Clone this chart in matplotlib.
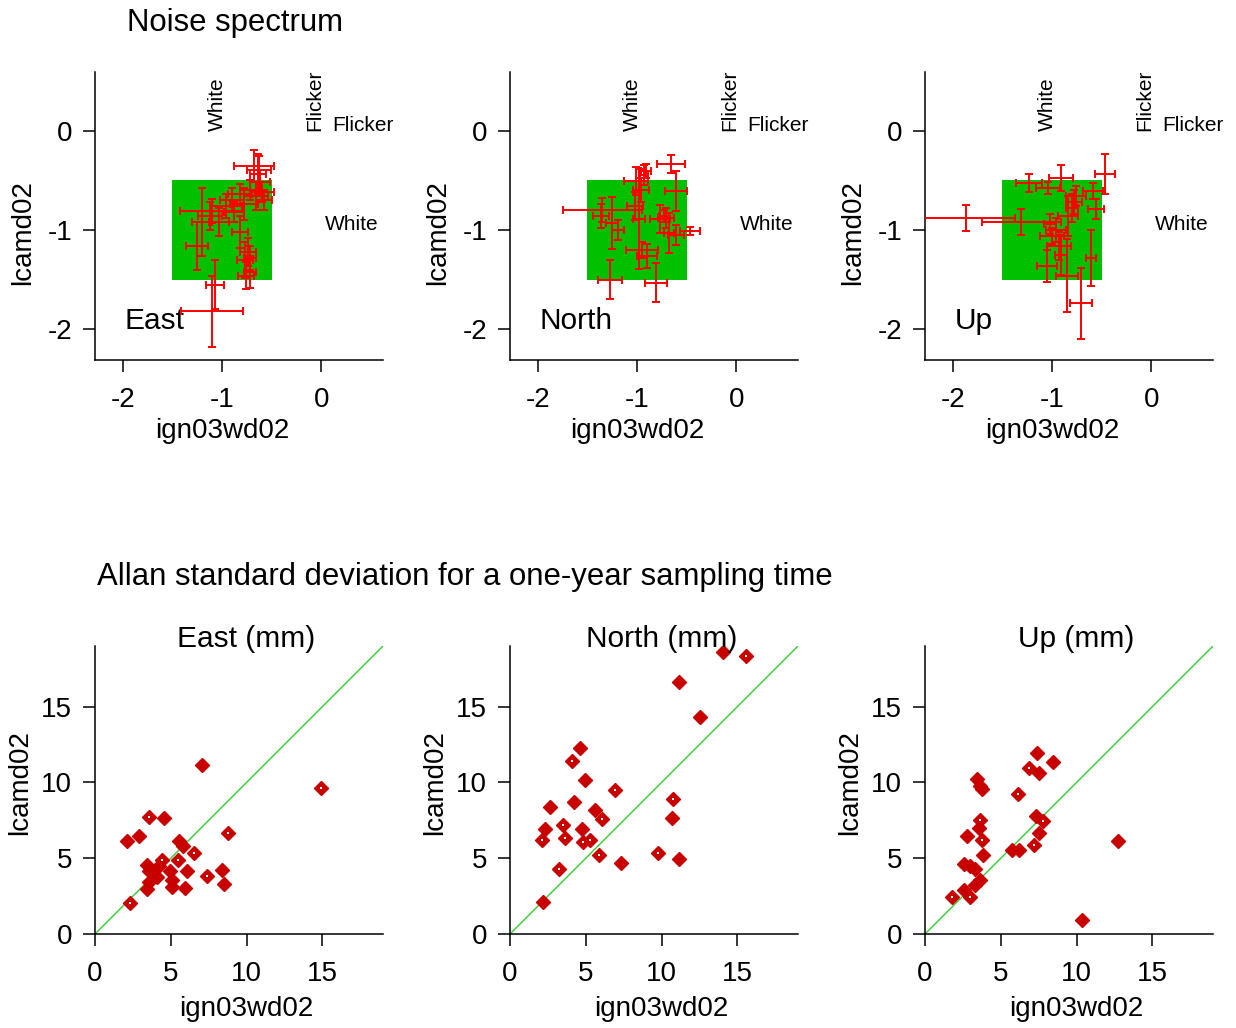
import matplotlib
matplotlib.use("Agg")
import matplotlib.pyplot as plt
from matplotlib.patches import Rectangle

# --- data ---
components = ["East", "North", "Up"]

# Noise spectrum: spectral index ign03wd02 (x) vs lcamd02 (y), with 1-sigma errors
east_sx = [-0.68, -0.63, -0.62, -0.60, -0.66, -0.58, -0.72, -0.82, -0.78, -0.90, -0.96, -1.10, -1.12,
           -1.20, -1.25, -1.03, -0.82, -0.74, -0.72, -0.77, -0.76, -0.72, -1.07, -1.10, -0.88, -0.64]
east_sy = [-0.36, -0.40, -0.52, -0.62, -0.66, -0.70, -0.60, -0.64, -0.74, -0.70, -0.76, -0.81, -0.86,
           -0.92, -1.16, -0.92, -1.02, -1.22, -1.28, -1.30, -1.46, -1.42, -1.55, -1.82, -0.82, -0.44]
east_sxerr = [0.20, 0.12, 0.10, 0.12, 0.12, 0.08, 0.10, 0.12, 0.14, 0.12, 0.16, 0.32, 0.12,
              0.10, 0.11, 0.10, 0.08, 0.08, 0.06, 0.08, 0.08, 0.06, 0.09, 0.31, 0.10, 0.08]
east_syerr = [0.16, 0.14, 0.12, 0.10, 0.14, 0.10, 0.10, 0.10, 0.16, 0.12, 0.12, 0.12, 0.14,
              0.34, 0.24, 0.14, 0.16, 0.14, 0.12, 0.18, 0.14, 0.16, 0.25, 0.36, 0.10, 0.20]

north_sx = [-1.35, -0.91, -0.93, -0.66, -0.61, -0.71, -0.73, -0.68, -0.47, -0.61, -0.98,
            -1.01, -1.25, -1.19, -1.27, -0.81, -0.95, -0.90, -1.02, -0.77, -1.36, -0.96]
north_sy = [-0.80, -0.41, -0.45, -0.34, -0.61, -0.88, -0.86, -1.03, -1.01, -1.05, -0.89,
            -0.51, -0.93, -1.00, -1.50, -1.53, -1.20, -1.26, -0.76, -0.89, -0.86, -0.60]
north_sxerr = [0.40, 0.05, 0.04, 0.14, 0.11, 0.08, 0.05, 0.05, 0.10, 0.08, 0.06,
               0.12, 0.06, 0.06, 0.12, 0.11, 0.16, 0.10, 0.08, 0.10, 0.08, 0.08]
north_syerr = [0.12, 0.07, 0.10, 0.09, 0.20, 0.10, 0.06, 0.20, 0.04, 0.10, 0.50,
               0.14, 0.26, 0.10, 0.20, 0.20, 0.08, 0.12, 0.14, 0.14, 0.12, 0.12]

up_sx = [-1.87, -1.31, -0.47, -1.23, -0.91, -1.04, -0.76, -0.78, -0.56, -0.59, -0.96,
         -0.93, -0.91, -0.61, -0.71, -0.85, -1.05, -1.00, -0.84, -0.80, -1.02]
up_sy = [-0.88, -0.92, -0.44, -0.53, -0.48, -0.58, -0.66, -0.72, -0.79, -0.61, -1.00,
         -1.16, -1.25, -1.28, -1.74, -1.46, -1.36, -1.06, -0.86, -0.78, -0.94]
up_sxerr = [0.50, 0.40, 0.10, 0.13, 0.12, 0.12, 0.10, 0.08, 0.08, 0.10, 0.10,
            0.12, 0.06, 0.05, 0.11, 0.11, 0.10, 0.12, 0.10, 0.06, 0.06]
up_syerr = [0.13, 0.13, 0.20, 0.09, 0.13, 0.06, 0.10, 0.12, 0.10, 0.08, 0.12,
            0.14, 0.20, 0.28, 0.36, 0.37, 0.16, 0.08, 0.20, 0.14, 0.10]

# Allan standard deviation (mm), filled and open diamonds
east_fill_x = [7.08, 4.53, 2.10, 2.87, 5.52, 5.78, 3.42, 3.53, 4.19, 4.97, 6.07, 8.39, 3.53,
               4.08, 5.08, 5.08, 5.96, 3.42, 8.50]
east_fill_y = [11.17, 7.62, 6.11, 6.45, 6.11, 5.78, 4.57, 4.14, 4.46, 4.14, 4.14, 4.24, 3.46,
               3.75, 3.58, 3.13, 3.02, 2.96, 3.29]
east_open_x = [14.90, 3.53, 8.76, 6.51, 4.42, 5.47, 7.40, 2.32]
east_open_y = [9.62, 7.70, 6.67, 5.34, 4.90, 4.90, 3.84, 2.03]

north_fill_x = [14.02, 11.15, 12.52, 4.64, 4.92, 4.20, 2.65, 5.63, 10.71, 2.32, 4.75, 11.15, 7.29, 2.21]
north_fill_y = [18.63, 16.60, 14.33, 12.30, 10.15, 8.70, 8.39, 8.15, 7.66, 6.94, 6.94, 4.97, 4.68, 2.14]
north_open_x = [15.56, 4.09, 6.91, 10.77, 6.07, 3.49, 2.14, 3.64, 4.79, 5.30, 5.85, 9.76, 3.20]
north_open_y = [18.32, 11.40, 9.47, 8.92, 7.56, 7.16, 6.20, 6.36, 6.05, 6.20, 5.18, 5.34, 4.28]

up_fill_x = [7.40, 8.46, 7.51, 3.42, 3.64, 3.75, 3.53, 7.35, 2.76, 7.51, 5.74, 6.18, 12.76, 3.80,
             2.54, 2.94, 3.31, 3.64, 3.31, 2.58, 10.37]
up_fill_y = [11.97, 11.35, 10.60, 10.20, 9.77, 9.55, 7.00, 7.80, 6.45, 6.67, 5.57, 5.52, 6.16, 5.23,
             4.64, 4.46, 4.28, 3.58, 3.25, 2.91, 0.93]
up_open_x = [6.85, 6.11, 3.60, 7.80, 3.75, 7.18, 2.98, 1.77]
up_open_y = [10.97, 9.25, 7.55, 7.43, 6.23, 5.90, 2.47, 2.47]

spec_ticks = [-2, -1, 0]
allan_ticks = [0, 5, 10, 15]


def style_axes(ax):
    for side in ("top", "right"):
        ax.spines[side].set_visible(False)
    for side in ("left", "bottom"):
        ax.spines[side].set_linewidth(1.1)
    ax.tick_params(direction="out", length=8.5, width=1.1, labelsize=20)
    ax.tick_params(axis="x", pad=11)
    ax.tick_params(axis="y", pad=8)


def main():
    plt.rcParams["font.family"] = ["Liberation Sans", "DejaVu Sans"]
    plt.rcParams["axes.unicode_minus"] = False
    W, H = 1236, 1028
    fig = plt.figure(figsize=(W / 100, H / 100), dpi=100)

    lefts = [95, 510, 925]
    size = 288

    spectra = [
        (east_sx, east_sy, east_sxerr, east_syerr),
        (north_sx, north_sy, north_sxerr, north_syerr),
        (up_sx, up_sy, up_sxerr, up_syerr),
    ]
    allan = [
        (east_fill_x, east_fill_y, east_open_x, east_open_y),
        (north_fill_x, north_fill_y, north_open_x, north_open_y),
        (up_fill_x, up_fill_y, up_open_x, up_open_y),
    ]

    # --- 1) Noise spectrum row ---
    for i, comp in enumerate(components):
        ax = fig.add_axes([lefts[i] / W, 1 - 360 / H, size / W, size / H])
        sx, sy, sxe, sye = spectra[i]
        ax.add_patch(Rectangle((-1.5, -1.5), 1.0, 1.0, color="#00C000", lw=0, zorder=1))
        ax.errorbar(sx, sy, xerr=sxe, yerr=sye, fmt="none", ecolor="red",
                    elinewidth=1.4, capsize=3, capthick=1.4, zorder=3)
        ax.set_xlim(-2.28, 0.62)
        ax.set_ylim(-2.31, 0.59)
        ax.set_xticks(spec_ticks)
        ax.set_yticks(spec_ticks)
        style_axes(ax)
        ax.set_xlabel("ign03wd02", fontsize=20)
        ax.set_ylabel("lcamd02", fontsize=20)
        ax.xaxis.set_label_coords(0.441, -0.2)
        ax.yaxis.set_label_coords(-0.205, 0.444)

        # spectral-index guide labels
        ax.text(-0.95, 0.0, "White", rotation=90, ha="right", va="bottom", fontsize=15)
        ax.text(0.03, 0.0, "Flicker", rotation=90, ha="right", va="bottom", fontsize=15)
        ax.text(0.11, 0.0, "Flicker", ha="left", va="baseline", fontsize=15)
        ax.text(0.03, -1.0, "White", ha="left", va="baseline", fontsize=15)
        ax.text(-1.98, -2.0, comp, ha="left", va="baseline", fontsize=21.5, zorder=2)

    fig.text(127 / W, 1 - 23 / H, "Noise spectrum", ha="left", va="center", fontsize=22.4)

    # --- 2) Allan standard deviation row ---
    red = "#C80000"
    for i, comp in enumerate(components):
        ax = fig.add_axes([lefts[i] / W, 1 - 934 / H, size / W, size / H])
        fx, fy, ox, oy = allan[i]
        ax.axline((0, 0), slope=1, color="#33CC33", lw=1.0, zorder=1)
        ax.plot(fx, fy, "D", ms=7, color=red, mec=red, zorder=3)
        ax.plot(ox, oy, "D", ms=7, color=red, mec=red, zorder=3)
        ax.plot(ox, oy, "s", ms=1.6, color="white", mec="white", mew=0, zorder=4)
        ax.set_xlim(0, 19)
        ax.set_ylim(0, 19)
        ax.set_xticks(allan_ticks)
        ax.set_yticks(allan_ticks)
        style_axes(ax)
        ax.set_xlabel("ign03wd02", fontsize=20)
        ax.set_ylabel("lcamd02", fontsize=20)
        ax.xaxis.set_label_coords(0.526, -0.215)
        ax.yaxis.set_label_coords(-0.215, 0.526)
        ax.text(10, 18.95, comp + " (mm)", ha="center", va="baseline", fontsize=21.5, zorder=5)

    fig.text(97 / W, 1 - 577 / H, "Allan standard deviation for a one-year sampling time",
             ha="left", va="center", fontsize=22.4)

    fig.savefig("out.png", dpi=100)


if __name__ == "__main__":
    main()
